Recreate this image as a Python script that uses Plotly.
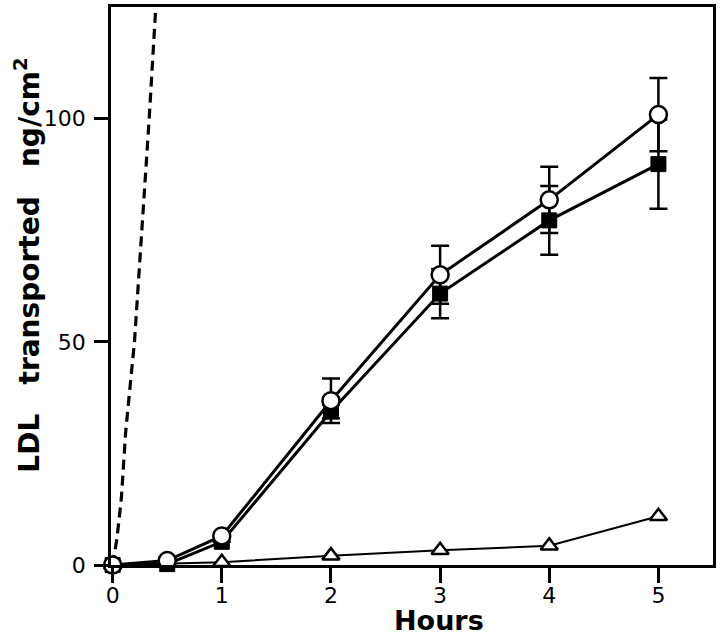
import plotly.graph_objects as go

# Data
hours = [0, 0.5, 1, 2, 3, 4, 5]
circle_vals = [0, 1.0, 6.5, 36.8, 65.0, 81.8, 100.9]
circle_err = [0, 0, 0, 5.0, 6.5, 7.4, 8.2]
square_vals = [0, 0.2, 5.2, 34.4, 60.8, 77.2, 89.8]
square_err = [0, 0, 0, 1.5, 5.5, 7.7, 10.0]
tri_hours = [0, 1, 2, 3, 4, 5]
tri_vals = [0, 0.6, 2.1, 3.3, 4.3, 10.9]
dash_hours = [0, 0.04, 0.08, 0.12, 0.2, 0.27, 0.335, 0.40]
dash_vals = [0, 6, 15, 30, 50, 75, 100, 127]

x_ticks = [0, 1, 2, 3, 4, 5]
y_ticks = [0, 50, 100]

fig = go.Figure()

fig.add_trace(go.Scatter(
    x=dash_hours, y=dash_vals, mode="lines",
    line=dict(color="black", width=3.2, dash="10px,6px"),
    showlegend=False, hoverinfo="skip"))

fig.add_trace(go.Scatter(
    x=tri_hours, y=tri_vals, mode="lines+markers",
    line=dict(color="black", width=2),
    marker=dict(symbol="triangle-up", size=15, color="white",
                line=dict(color="black", width=2.5)),
    cliponaxis=False, showlegend=False))

fig.add_trace(go.Scatter(
    x=hours, y=square_vals, mode="lines+markers",
    line=dict(color="black", width=3),
    marker=dict(symbol="square", size=15, color="black",
                line=dict(color="black", width=1)),
    error_y=dict(type="data", array=square_err, visible=True,
                 color="black", thickness=2.5, width=9),
    cliponaxis=False, showlegend=False))

fig.add_trace(go.Scatter(
    x=hours, y=circle_vals, mode="lines+markers",
    line=dict(color="black", width=3),
    marker=dict(symbol="circle", size=17, color="white",
                line=dict(color="black", width=2.5)),
    error_y=dict(type="data", array=circle_err, visible=True,
                 color="black", thickness=2.5, width=9),
    cliponaxis=False, showlegend=False))

tick_font = dict(family="DejaVu Sans", size=22, color="black")
title_font = dict(family="DejaVu Sans", size=28, color="black", weight="bold")
hours_font = dict(family="DejaVu Sans", size=27, color="black", weight="bold")

fig.update_xaxes(
    range=[-0.015, 5.5], tickvals=x_ticks, ticktext=[str(v) for v in x_ticks],
    showgrid=False, zeroline=False, showline=True, linecolor="black",
    linewidth=2.5, mirror=True, ticks="outside", ticklen=15, tickwidth=2.5,
    tickcolor="black", tickfont=tick_font, ticklabelstandoff=-6)
fig.update_yaxes(
    range=[0, 125], tickvals=y_ticks, ticktext=[str(v) for v in y_ticks],
    showgrid=False, zeroline=False, showline=True, linecolor="black",
    linewidth=2.5, mirror=True, ticks="outside", ticklen=14, tickwidth=2.5,
    tickcolor="black", tickfont=tick_font, ticklabelstandoff=4)

fig.add_annotation(
    text="LDL\u00a0\u00a0 transported\u00a0\u00a0 ng/cm<sup>2</sup>",
    xref="paper", yref="paper", x=-0.139, y=0.537,
    xanchor="center", yanchor="middle", textangle=-90,
    showarrow=False, font=title_font)
fig.add_annotation(
    text="Hours", xref="paper", yref="paper", x=0.545, y=-0.1305,
    xanchor="center", yanchor="bottom", showarrow=False, font=hours_font)

fig.update_layout(
    width=720, height=640,
    margin=dict(l=111, r=4, t=5, b=75),
    paper_bgcolor="white", plot_bgcolor="white",
)

fig.write_html(
    "out.html",
    config={"displayModeBar": False},
    post_script="document.body.style.margin='0';document.body.style.overflow='hidden';",
)
